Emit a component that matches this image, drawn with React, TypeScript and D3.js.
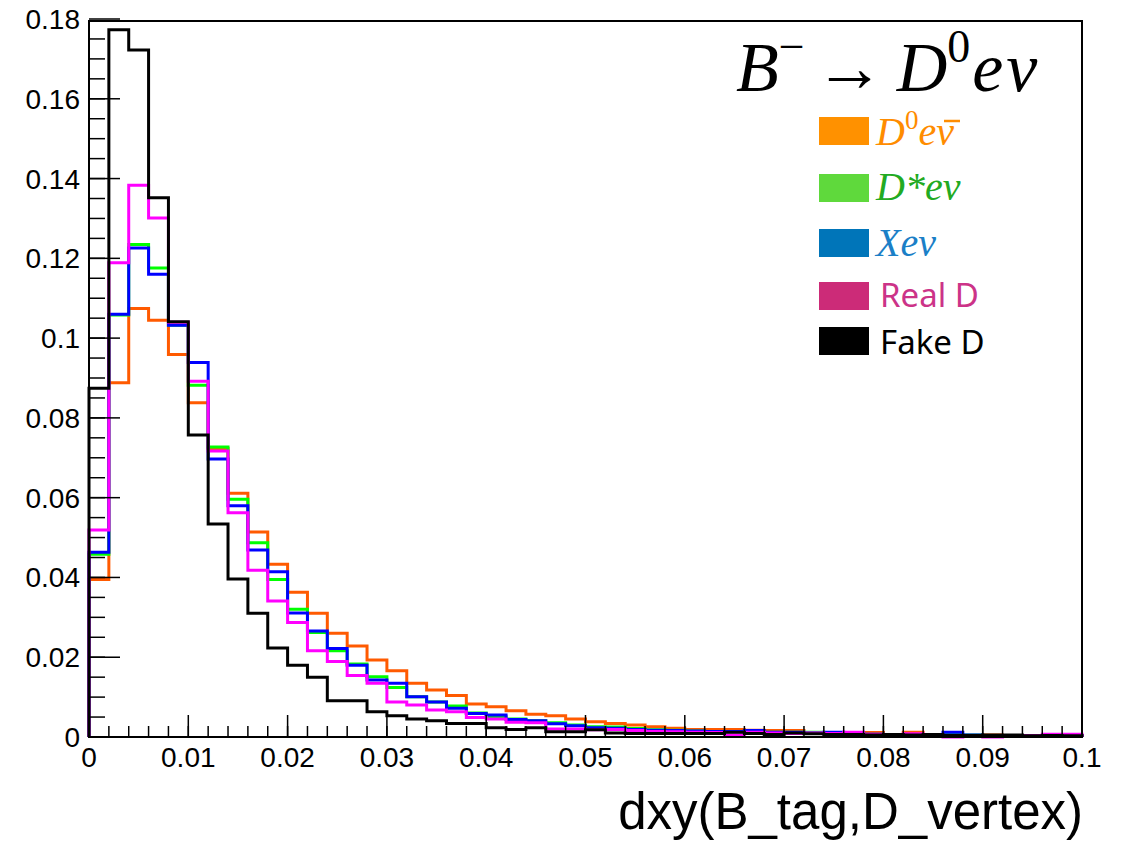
import React from 'react';
import * as d3 from 'd3';

const xMin = 0;
const xMax = 0.1;
const nBins = 50;

const xTickLabels = ['0', '0.01', '0.02', '0.03', '0.04', '0.05', '0.06', '0.07', '0.08', '0.09', '0.1'];
const yTickLabels = ['0', '0.02', '0.04', '0.06', '0.08', '0.1', '0.12', '0.14', '0.16', '0.18'];

const d0enu = [
  0.0395, 0.0888, 0.1074, 0.1045, 0.0959, 0.0838, 0.0723, 0.0611, 0.0514, 0.0433,
  0.0363, 0.0310, 0.0260, 0.0228, 0.0193, 0.0166, 0.0135, 0.0118, 0.0104, 0.0083,
  0.0076, 0.0066, 0.0057, 0.0053, 0.0045, 0.0038, 0.0034, 0.0030, 0.0026, 0.0022,
  0.0019, 0.0019, 0.0019, 0.0017, 0.0016, 0.0016, 0.0010, 0.0010, 0.0011, 0.0011,
  0.0006, 0.0012, 0.0006, 0.0006, 0.0004, 0.0005, 0.0004, 0.0004, 0.0003, 0.0004,
];
const dstarenu = [
  0.0458, 0.1058, 0.1235, 0.1176, 0.1032, 0.0882, 0.0727, 0.0596, 0.0487, 0.0395,
  0.0320, 0.0262, 0.0216, 0.0183, 0.0151, 0.0124, 0.0101, 0.0088, 0.0078, 0.0060,
  0.0051, 0.0045, 0.0041, 0.0036, 0.0030, 0.0026, 0.0025, 0.0021, 0.0018, 0.0017,
  0.0015, 0.0014, 0.0013, 0.0013, 0.0012, 0.0012, 0.0012, 0.0009, 0.0008, 0.0007,
  0.0006, 0.0006, 0.0005, 0.0006, 0.0005, 0.0004, 0.0004, 0.0004, 0.0003, 0.0003,
];
const xenu = [
  0.0463, 0.1060, 0.1226, 0.1160, 0.1032, 0.0939, 0.0697, 0.0580, 0.0469, 0.0414,
  0.0311, 0.0266, 0.0222, 0.0180, 0.0143, 0.0135, 0.0101, 0.0088, 0.0072, 0.0059,
  0.0055, 0.0044, 0.0041, 0.0033, 0.0028, 0.0023, 0.0022, 0.0019, 0.0017, 0.0016,
  0.0015, 0.0014, 0.0014, 0.0016, 0.0012, 0.0012, 0.0010, 0.0012, 0.0008, 0.0007,
  0.0006, 0.0006, 0.0005, 0.0012, 0.0005, 0.0004, 0.0004, 0.0003, 0.0004, 0.0003,
];
const realD = [
  0.0519, 0.1189, 0.1383, 0.1301, 0.1040, 0.0892, 0.0717, 0.0562, 0.0418, 0.0341,
  0.0287, 0.0216, 0.0189, 0.0154, 0.0135, 0.0088, 0.0080, 0.0068, 0.0063, 0.0049,
  0.0045, 0.0037, 0.0036, 0.0020, 0.0020, 0.0018, 0.0019, 0.0016, 0.0014, 0.0013,
  0.0012, 0.0011, 0.0005, 0.0012, 0.0010, 0.0009, 0.0010, 0.0009, 0.0012, 0.0007,
  0.0006, 0.0008, 0.0005, 0.0000, 0.0004, 0.0000, 0.0004, 0.0004, 0.0007, 0.0007,
];
const fakeD = [
  0.0874, 0.1773, 0.1722, 0.1352, 0.1041, 0.0757, 0.0534, 0.0396, 0.0310, 0.0223,
  0.0180, 0.0150, 0.0091, 0.0091, 0.0063, 0.0053, 0.0045, 0.0041, 0.0034, 0.0034,
  0.0023, 0.0019, 0.0023, 0.0013, 0.0013, 0.0018, 0.0010, 0.0009, 0.0009, 0.0009,
  0.0009, 0.0009, 0.0012, 0.0009, 0.0006, 0.0010, 0.0008, 0.0006, 0.0006, 0.0005,
  0.0006, 0.0005, 0.0006, 0.0004, 0.0004, 0.0005, 0.0005, 0.0003, 0.0004, 0.0003,
];

const series = [
  { name: 'd0enu', values: d0enu, color: '#ff5a00' },
  { name: 'dstarenu', values: dstarenu, color: '#00ff00' },
  { name: 'xenu', values: xenu, color: '#0000ff' },
  { name: 'realD', values: realD, color: '#ff00ff' },
  { name: 'fakeD', values: fakeD, color: '#000000' },
];

export default function App() {
  const W = 1129;
  const H = 841;
  const left = 89, right = 1082, top = 21, bottom = 737;
  const x = d3.scaleLinear().domain([xMin, xMax]).range([left, right]);
  const y = d3.scaleLinear().domain([0, 0.1795]).range([bottom, top]);
  const bw = (xMax - xMin) / nBins;

  const line = d3
    .line<[number, number]>()
    .x((d) => x(d[0]))
    .y((d) => y(d[1]))
    .curve(d3.curveStepAfter);

  const pathFor = (vals: number[]) => {
    const pts: [number, number][] = [[xMin, 0]];
    vals.forEach((v, i) => pts.push([xMin + i * bw, v]));
    pts.push([xMax, vals[vals.length - 1]]);
    pts.push([xMax, 0]);
    return line(pts) as string;
  };

  const xMajor = d3.range(0, 11).map((i) => i * 0.01);
  const xMinor = d3.range(0, 51).map((i) => i * 0.002);
  const yMajor = d3.range(0, 10).map((i) => i * 0.02);
  const yMinor = d3.range(0, 36).map((i) => i * 0.005).filter((v) => v <= 0.1795);

  const tickFont = '"Liberation Sans", Arial, sans-serif';
  const serif = '"Liberation Serif", "Times New Roman", serif';
  const legendSans = '"Noto Sans", sans-serif';

  const legendBoxes = [
    { box: '#ff9100', yb: 117 },
    { box: '#5fd93c', yb: 174 },
    { box: '#0075b9', yb: 229 },
    { box: '#cc2b78', yb: 282 },
    { box: '#000000', yb: 327 },
  ];

  return (
    <svg
      width={W}
      height={H}
      style={{ position: 'absolute', left: 0, top: 0, background: '#fff' }}
    >
      <rect x={0} y={0} width={W} height={H} fill="#fff" />
      {series.map((s) => (
        <path key={s.name} d={pathFor(s.values)} fill="none" stroke={s.color} strokeWidth={3} />
      ))}
      <rect x={left} y={top} width={right - left} height={bottom - top} fill="none" stroke="#000" strokeWidth={2} />
      {xMinor.map((v, i) => (
        <line key={'xm' + i} x1={x(v)} x2={x(v)} y1={bottom} y2={bottom - 11} stroke="#000" strokeWidth={1.5} />
      ))}
      {xMajor.map((v, i) => (
        <line key={'xM' + i} x1={x(v)} x2={x(v)} y1={bottom} y2={bottom - 22} stroke="#000" strokeWidth={1.5} />
      ))}
      {xMajor.map((v, i) => (
        <text key={'xl' + i} x={x(v)} y={767} textAnchor="middle" fontFamily={tickFont} fontSize={28}>
          {xTickLabels[i]}
        </text>
      ))}
      {yMinor.map((v, i) => (
        <line key={'ym' + i} x1={left} x2={left + 16} y1={y(v)} y2={y(v)} stroke="#000" strokeWidth={1.5} />
      ))}
      {yMajor.map((v, i) => (
        <line key={'yM' + i} x1={left} x2={left + 31} y1={y(v)} y2={y(v)} stroke="#000" strokeWidth={1.5} />
      ))}
      {yMajor.map((v, i) => (
        <text key={'yl' + i} x={80} y={y(v) + 10} textAnchor="end" fontFamily={tickFont} fontSize={28}>
          {yTickLabels[i]}
        </text>
      ))}
      <text x={1083} y={829} textAnchor="end" fontFamily={tickFont} fontSize={51}>
        dxy(B_tag,D_vertex)
      </text>
      <text x={736} y={91} fontFamily={serif} fontSize={70}>
        <tspan fontStyle="italic">B</tspan>
        <tspan dy={-29} fontSize={46}>−</tspan>
        <tspan dy={29} dx={10}>→</tspan>
        <tspan dx={12} fontStyle="italic">D</tspan>
        <tspan dy={-29} fontSize={46}>0</tspan>
        <tspan dy={29} dx={2} fontStyle="italic">e</tspan>
        <tspan dx={3} fontStyle="italic">ν</tspan>
      </text>
      {legendBoxes.map((l, i) => (
        <rect key={'lb' + i} x={819} y={l.yb} width={50} height={28} fill={l.box} />
      ))}
      <text x={876} y={145} fontFamily={serif} fontSize={40} fill="#ff8c00" fontStyle="italic">
        <tspan>D</tspan>
        <tspan dy={-16} fontSize={27} fontStyle="normal">0</tspan>
        <tspan dy={16}>eν</tspan>
      </text>
      <line x1={944} x2={960} y1={121} y2={121} stroke="#ff8c00" strokeWidth={2.5} />
      <text x={876} y={200} fontFamily={serif} fontSize={40} fill="#22aa22" fontStyle="italic">
        D*eν
      </text>
      <text x={876} y={256} fontFamily={serif} fontSize={40} fill="#1b7fc7" fontStyle="italic">
        Xeν
      </text>
      <text x={880} y={307} fontFamily={legendSans} fontSize={33} fill="#cc3388">
        Real D
      </text>
      <text x={880} y={354} fontFamily={legendSans} fontSize={33} fill="#000">
        Fake D
      </text>
    </svg>
  );
}
